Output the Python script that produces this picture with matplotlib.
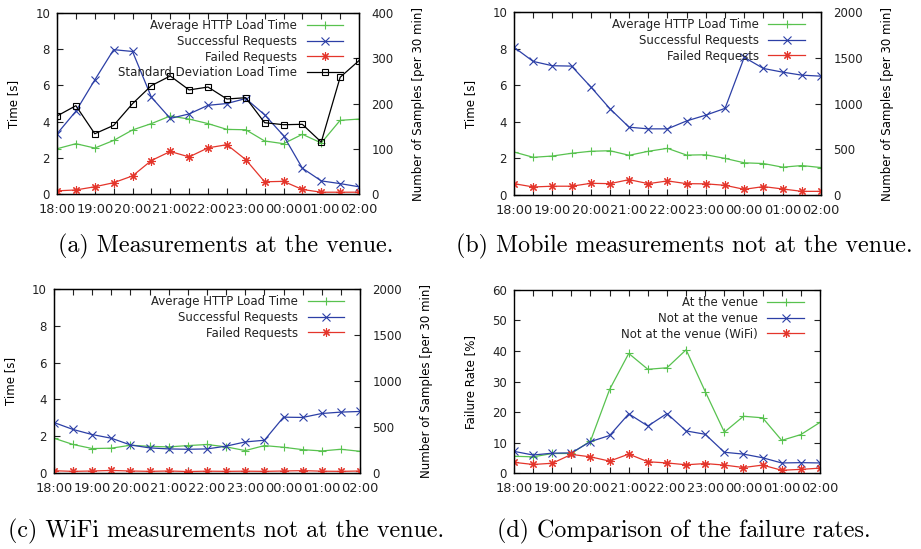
import matplotlib
matplotlib.use('Agg')
import matplotlib.pyplot as plt
import numpy as np

# half-hour slots from 18:00 to 02:00
hours = ['18:00', '19:00', '20:00', '21:00', '22:00', '23:00', '00:00', '01:00', '02:00']
slots = np.arange(17)

# (a) at the venue
a_load = [2.50, 2.78, 2.54, 2.96, 3.54, 3.89, 4.31, 4.14, 3.89, 3.57, 3.55, 2.93, 2.78, 3.30, 2.82, 4.07, 4.14]
a_succ = [133, 183, 252, 319, 315, 214, 167, 177, 196, 200, 211, 175, 129, 57, 29, 23, 16]
a_fail = [7, 9, 16, 25, 40, 74, 94, 82, 102, 109, 76, 27, 28, 10, 4, 4, 4]
a_std = [4.31, 4.88, 3.33, 3.79, 4.99, 5.99, 6.52, 5.75, 5.91, 5.25, 5.32, 3.94, 3.83, 3.85, 2.87, 6.45, 7.37]

# (b) mobile, not at the venue
b_load = [2.35, 2.06, 2.13, 2.28, 2.39, 2.42, 2.17, 2.39, 2.55, 2.18, 2.20, 2.00, 1.76, 1.72, 1.52, 1.61, 1.50]
b_succ = [1615, 1460, 1413, 1409, 1182, 943, 741, 723, 723, 810, 873, 947, 1505, 1383, 1343, 1310, 1299]
b_fail = [124, 88, 96, 96, 128, 124, 168, 124, 154, 124, 122, 106, 62, 92, 66, 40, 40]

# (c) wifi, not at the venue
c_load = [1.89, 1.55, 1.33, 1.35, 1.51, 1.45, 1.42, 1.49, 1.55, 1.42, 1.22, 1.49, 1.40, 1.27, 1.20, 1.29, 1.18]
c_succ = [549, 473, 418, 378, 305, 273, 262, 258, 262, 292, 338, 356, 607, 604, 647, 662, 669]
c_fail = [25, 18, 22, 28, 22, 18, 22, 16, 20, 18, 20, 18, 22, 26, 20, 18, 22]

# (d) failure rates [%]
d_venue = [5.5, 5.3, 6.4, 6.4, 10.5, 27.4, 39.2, 34.0, 34.5, 40.4, 26.7, 13.4, 18.6, 18.1, 10.7, 12.6, 16.6]
d_mobile = [7.1, 5.9, 6.5, 6.6, 10.3, 12.3, 19.4, 15.4, 19.5, 13.8, 12.7, 6.8, 6.2, 5.0, 3.3, 3.4, 3.3]
d_wifi = [3.5, 2.8, 3.2, 6.1, 5.3, 3.9, 6.2, 3.7, 3.3, 2.7, 3.1, 2.6, 1.8, 2.6, 0.9, 1.2, 1.6]

GREEN = '#58c24f'
BLUE = '#2c3fa6'
RED = '#e4352b'
STAR = (8, 2, 0)
FS = 8.5

plt.rcParams['font.family'] = 'DejaVu Sans'
plt.rcParams['font.size'] = FS
plt.rcParams['text.color'] = '#222222'
plt.rcParams['xtick.color'] = '#222222'
plt.rcParams['ytick.color'] = '#222222'

fig = plt.figure(figsize=(9.21, 5.49), dpi=100)

def frame(ax):
    ax.set_xlim(0, 16)
    ax.set_xticks(slots)
    ax.set_xticklabels([hours[i // 2] if i % 2 == 0 else '' for i in slots], fontsize=9.3)
    ax.tick_params(axis='x', direction='in', top=True, length=4, pad=6.5)
    ax.tick_params(axis='y', direction='in', length=4, pad=5)
    for s in ax.spines.values():
        s.set_linewidth(1.0)

def curve(ax, y, color, marker, ms=5.5, mfc=None, label=None):
    return ax.plot(slots, y, color=color, lw=0.9, marker=marker, ms=ms,
                   mew=0.8, mfc=mfc if mfc else color, label=label)[0]

def legend(ax, handles, labels, anchor):
    ax.legend(handles, labels, loc='upper right', bbox_to_anchor=anchor,
              frameon=False, markerfirst=False, handlelength=3.1,
              handletextpad=0.8, labelspacing=0.22, borderpad=0,
              borderaxespad=0, fontsize=FS)

def panel(rect, load, succ, fail, ymax, std=None):
    ax = fig.add_axes(rect)
    frame(ax)
    ax.set_ylim(0, 10)
    ax.set_yticks(range(0, 11, 2))
    ax.set_ylabel('Time [s]', labelpad=11)
    ax2 = ax.twinx()
    ax2.set_ylim(0, ymax)
    ax2.tick_params(axis='y', direction='in', length=4, pad=9)
    ax2.set_ylabel('Number of Samples [per 30 min]', labelpad=13)
    h = [curve(ax, load, GREEN, '+', ms=6)]
    h.append(curve(ax2, succ, BLUE, 'x', ms=5.5))
    h.append(curve(ax2, fail, RED, STAR, ms=6))
    labels = ['Average HTTP Load Time', 'Successful Requests', 'Failed Requests']
    if std is not None:
        h.append(curve(ax2, np.array(std) * ymax / 10, 'black', 's', ms=5, mfc='none'))
        labels.append('Standard Deviation Load Time')
    legend(ax2, h, labels, (0.948, 0.965))
    return ax

panel([0.0619, 0.6466, 0.3279, 0.3297], a_load, a_succ, a_fail, 400, a_std)
panel([0.5581, 0.6448, 0.3333, 0.3333], b_load, b_succ, b_fail, 2000)
panel([0.0586, 0.1384, 0.3323, 0.3352], c_load, c_succ, c_fail, 2000)

axd = fig.add_axes([0.5581, 0.1384, 0.3322, 0.3334])
frame(axd)
axd.tick_params(axis='y', right=True)
axd.set_ylim(0, 60)
axd.set_yticks(range(0, 61, 10))
axd.set_ylabel('Failure Rate [%]', labelpad=11)
hd = [curve(axd, d_venue, GREEN, '+', ms=6),
      curve(axd, d_mobile, BLUE, 'x', ms=5.5),
      curve(axd, d_wifi, RED, STAR, ms=6)]
legend(axd, hd, ['At the venue', 'Not at the venue', 'Not at the venue (WiFi)'], (0.948, 0.965))

captions = [(0.245, 0.551, '(a) Measurements at the venue.'),
            (0.743, 0.551, '(b) Mobile measurements not at the venue.'),
            (0.245, 0.032, '(c) WiFi measurements not at the venue.'),
            (0.743, 0.032, '(d) Comparison of the failure rates.')]
for x, y, s in captions:
    fig.text(x, y, s, family='cmr10', fontsize=17.3, ha='center', va='center', color='black')

plt.savefig('out.png', dpi=100)
plt.close()
